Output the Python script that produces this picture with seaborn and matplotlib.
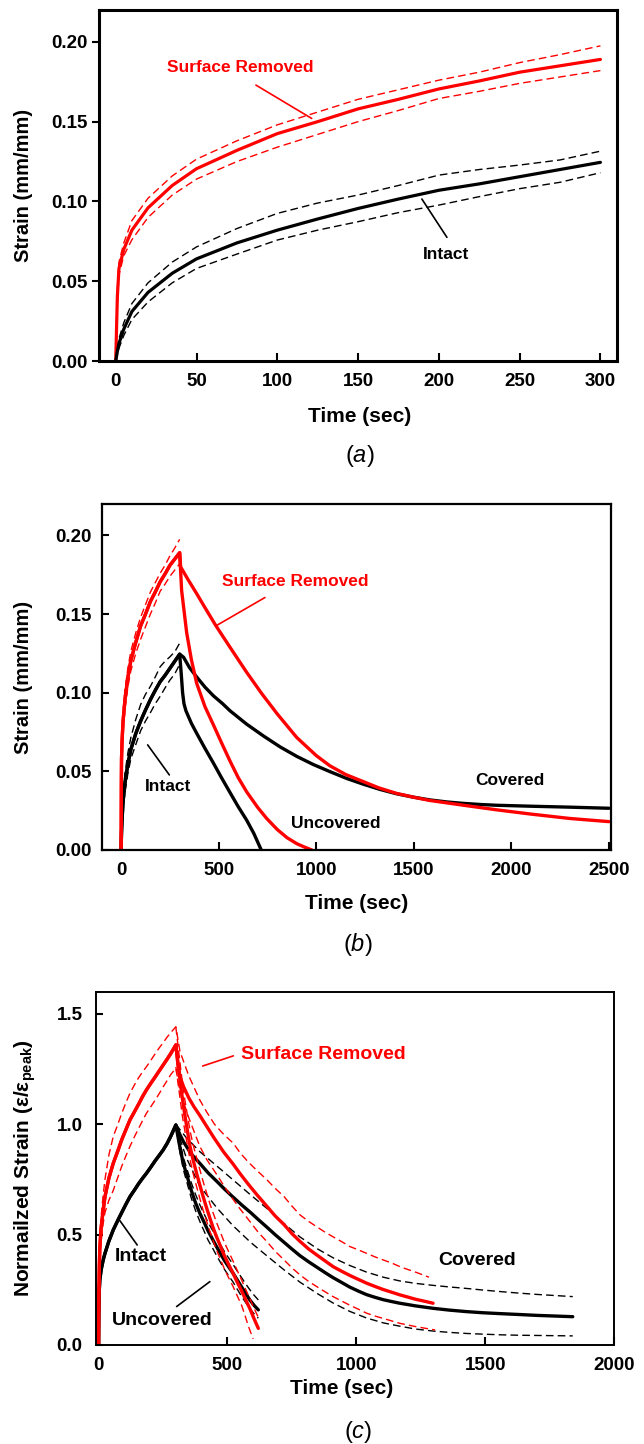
import numpy as np
import matplotlib as mpl
mpl.use('Agg')
import matplotlib.pyplot as plt
import seaborn as sns
from matplotlib.ticker import FormatStrFormatter, MultipleLocator

# ---- (a) creep, raw strain (mm/mm) ----
t_creep = [0, 1, 2, 5, 10, 20, 35, 50, 75, 100, 125, 150, 175, 200, 225, 250, 275, 300]
sr_creep = [0, 0.040, 0.058, 0.070, 0.082, 0.096, 0.110, 0.1205, 0.132, 0.1425, 0.150, 0.158, 0.164,
            0.1705, 0.1755, 0.181, 0.185, 0.189]
sr_creep_hi = [0, 0.045, 0.062, 0.074, 0.088, 0.102, 0.116, 0.1265, 0.138, 0.148, 0.156, 0.164, 0.170,
               0.176, 0.181, 0.187, 0.192, 0.1975]
sr_creep_lo = [0, 0.035, 0.054, 0.066, 0.076, 0.090, 0.104, 0.114, 0.125, 0.134, 0.142, 0.150, 0.157,
               0.1645, 0.169, 0.174, 0.178, 0.182]
in_creep = [0, 0.006, 0.011, 0.020, 0.031, 0.043, 0.055, 0.064, 0.074, 0.082, 0.089, 0.0956, 0.1015,
            0.107, 0.111, 0.1155, 0.120, 0.1245]
in_creep_hi = [0, 0.008, 0.014, 0.024, 0.036, 0.049, 0.062, 0.0715, 0.083, 0.0925, 0.099, 0.104, 0.110,
               0.1165, 0.120, 0.1228, 0.126, 0.1315]
in_creep_lo = [0, 0.004, 0.008, 0.016, 0.026, 0.037, 0.049, 0.058, 0.067, 0.0758, 0.082, 0.0873, 0.093,
               0.0977, 0.103, 0.108, 0.112, 0.118]

# ---- (b) recovery after unloading, raw strain ----
t_in_unc = [308, 315, 322, 332, 360, 387, 430, 473, 515, 558, 600, 643, 680, 718]
in_unc = [0.112, 0.100, 0.093, 0.0885, 0.0805, 0.0742, 0.0645, 0.0552, 0.0458, 0.0365, 0.0275, 0.019,
          0.0105, 0.0]
t_in_cov = [320, 350, 387, 430, 473, 520, 558, 643, 729, 815, 900, 985, 1070, 1155, 1241, 1326, 1412,
            1500, 1583, 1670, 1754, 1840, 1925, 2100, 2300, 2500]
in_cov = [0.1225, 0.116, 0.110, 0.1035, 0.098, 0.093, 0.0885, 0.080, 0.0725, 0.0655, 0.0595, 0.0543,
          0.0498, 0.0455, 0.0418, 0.0385, 0.0357, 0.0335, 0.0318, 0.0305, 0.0296, 0.0289, 0.0284,
          0.0278, 0.0272, 0.0265]
t_sr_unc = [310, 336, 360, 387, 430, 473, 515, 558, 600, 643, 700, 746, 800, 850, 900, 940, 977]
sr_unc = [0.165, 0.138, 0.121, 0.106, 0.091, 0.0795, 0.068, 0.0565, 0.046, 0.037, 0.027, 0.020,
          0.013, 0.0078, 0.0040, 0.0018, 0.0]
t_sr_cov = [305, 340, 387, 430, 486, 560, 643, 720, 800, 900, 1000, 1070, 1150, 1240, 1320, 1410,
            1500, 1580, 1750, 1925, 2100, 2300, 2500]
sr_cov = [0.180, 0.1725, 0.163, 0.154, 0.1425, 0.1285, 0.113, 0.0995, 0.0865, 0.0715, 0.060, 0.0535,
          0.048, 0.0435, 0.0395, 0.036, 0.0335, 0.0315, 0.0285, 0.0255, 0.0228, 0.020, 0.018]

# ---- (c) normalized strain (eps / eps_peak of intact) ----
t_nload = [0, 1, 3, 5, 10, 18, 25, 40, 57, 75, 90, 106, 122, 140, 155, 170, 186, 203, 220, 236, 251,
           266, 280, 300]
nin_load = [0, 0.15, 0.25, 0.295, 0.34, 0.385, 0.415, 0.47, 0.521, 0.565, 0.60, 0.637, 0.672, 0.703,
            0.73, 0.754, 0.778, 0.806, 0.835, 0.86, 0.884, 0.913, 0.945, 0.997]
nsr_load = [0, 0.20, 0.35, 0.44, 0.53, 0.61, 0.672, 0.755, 0.823, 0.88, 0.93, 0.975, 1.02, 1.058,
            1.09, 1.124, 1.156, 1.186, 1.215, 1.243, 1.269, 1.295, 1.32, 1.36]
nsr_load_hi = [0, 0.22, 0.38, 0.48, 0.58, 0.68, 0.75, 0.86, 0.944, 1.0, 1.05, 1.097, 1.141, 1.18, 1.21,
               1.236, 1.261, 1.29, 1.32, 1.347, 1.37, 1.395, 1.415, 1.442]
nsr_load_lo = [0, 0.18, 0.31, 0.40, 0.48, 0.55, 0.60, 0.655, 0.70, 0.76, 0.81, 0.856, 0.90, 0.945, 0.98,
               1.015, 1.05, 1.08, 1.11, 1.14, 1.17, 1.198, 1.225, 1.254]

t_nin_cov = [300, 315, 330, 360, 393, 425, 460, 490, 522, 555, 590, 620, 652, 685, 720, 750, 781, 815,
             850, 880, 910, 945, 975, 1010, 1040, 1075, 1105, 1140, 1169, 1230, 1298, 1360, 1428, 1490,
             1557, 1630, 1700, 1770, 1840]
nin_cov = [0.997, 0.955, 0.92, 0.865, 0.823, 0.78, 0.74, 0.705, 0.67, 0.635, 0.60, 0.568, 0.535, 0.50,
           0.465, 0.435, 0.405, 0.377, 0.35, 0.327, 0.305, 0.282, 0.262, 0.243, 0.228, 0.215, 0.205,
           0.196, 0.189, 0.177, 0.166, 0.158, 0.151, 0.146, 0.142, 0.138, 0.134, 0.131, 0.128]
t_nin_cov_band = [300, 340, 393, 460, 522, 590, 652, 720, 781, 850, 910, 975, 1040, 1105, 1169, 1230,
                  1298, 1360, 1428, 1490, 1557, 1630, 1700, 1770, 1840]
nin_cov_hi = [1.0, 0.94, 0.876, 0.81, 0.748, 0.68, 0.62, 0.55, 0.49, 0.435, 0.395, 0.36, 0.33, 0.307,
              0.29, 0.279, 0.27, 0.263, 0.256, 0.249, 0.242, 0.235, 0.229, 0.224, 0.219]
nin_cov_lo = [0.99, 0.85, 0.72, 0.62, 0.54, 0.465, 0.405, 0.34, 0.285, 0.232, 0.19, 0.152, 0.122, 0.10,
              0.085, 0.072, 0.063, 0.057, 0.052, 0.049, 0.046, 0.044, 0.043, 0.042, 0.041]

t_nsr_cov = [300, 308, 316, 330, 350, 370, 393, 420, 450, 485, 522, 550, 580, 615, 652, 685, 720, 750,
             781, 815, 850, 880, 910, 945, 975, 1010, 1040, 1075, 1105, 1140, 1169, 1200, 1230, 1265, 1298]
nsr_cov = [1.36, 1.27, 1.216, 1.17, 1.12, 1.08, 1.04, 0.99, 0.935, 0.875, 0.82, 0.775, 0.73, 0.68, 0.63,
           0.585, 0.545, 0.505, 0.47, 0.435, 0.405, 0.38, 0.355, 0.333, 0.315, 0.296, 0.28, 0.264, 0.251,
           0.238, 0.227, 0.217, 0.207, 0.198, 0.189]
t_nsr_cov_hi = [300, 316, 350, 393, 420, 450, 485, 522, 550, 580, 615, 652, 685, 720, 750, 781, 815, 850,
                880, 910, 945, 975, 1010, 1040, 1075, 1105, 1140, 1169, 1200, 1230, 1282]
nsr_cov_hi = [1.44, 1.33, 1.22, 1.11, 1.055, 1.00, 0.955, 0.915, 0.87, 0.83, 0.79, 0.75, 0.71, 0.672,
              0.63, 0.59, 0.56, 0.533, 0.51, 0.49, 0.467, 0.446, 0.43, 0.415, 0.398, 0.385, 0.37, 0.355,
              0.342, 0.33, 0.307]
t_nsr_cov_lo = [300, 316, 350, 393, 420, 460, 490, 522, 550, 587, 620, 652, 685, 720, 750, 781, 815, 850,
                880, 910, 945, 975, 1010, 1040, 1075, 1105, 1140, 1169, 1235, 1306]
nsr_cov_lo = [1.26, 1.15, 1.03, 0.90, 0.84, 0.77, 0.715, 0.66, 0.615, 0.56, 0.51, 0.47, 0.425, 0.385,
              0.35, 0.318, 0.288, 0.262, 0.24, 0.219, 0.198, 0.18, 0.161, 0.144, 0.13, 0.12, 0.108, 0.098,
              0.082, 0.068]

t_nin_unc = [300, 308, 315, 322, 329, 345, 360, 376, 393, 410, 425, 442, 458, 474, 490, 506, 522, 538,
             555, 571, 587, 603, 620]
nin_unc = [1.0, 0.945, 0.90, 0.86, 0.823, 0.76, 0.70, 0.645, 0.597, 0.555, 0.517, 0.48, 0.445, 0.412,
           0.38, 0.352, 0.325, 0.295, 0.263, 0.233, 0.204, 0.18, 0.159]
t_nin_unc_band = [300, 315, 329, 345, 360, 376, 393, 410, 425, 442, 458, 474, 490, 506, 522, 538, 555,
                  571, 587, 603, 620]
nin_unc_hi = [1.0, 0.92, 0.85, 0.79, 0.735, 0.683, 0.635, 0.593, 0.555, 0.52, 0.485, 0.452, 0.42, 0.392,
              0.365, 0.335, 0.305, 0.277, 0.25, 0.226, 0.204]
nin_unc_lo = [1.0, 0.88, 0.795, 0.728, 0.665, 0.61, 0.56, 0.515, 0.475, 0.44, 0.405, 0.372, 0.34, 0.312,
              0.285, 0.253, 0.22, 0.192, 0.165, 0.142, 0.121]

t_nsr_unc = [300, 308, 316, 325, 335, 345, 355, 367, 380, 393, 406, 419, 432, 445, 458, 474, 490, 506,
             522, 538, 555, 571, 587, 603, 620]
nsr_unc = [1.36, 1.28, 1.2, 1.12, 1.04, 0.97, 0.90, 0.838, 0.78, 0.725, 0.672, 0.622, 0.575, 0.53, 0.49,
           0.445, 0.40, 0.362, 0.325, 0.285, 0.245, 0.205, 0.165, 0.12, 0.075]
nsr_unc_hi = [1.44, 1.36, 1.28, 1.19, 1.11, 1.04, 0.97, 0.908, 0.85, 0.795, 0.74, 0.69, 0.64, 0.597,
              0.555, 0.507, 0.46, 0.42, 0.38, 0.338, 0.295, 0.252, 0.21, 0.167, 0.125]
t_nsr_unc_lo = [300, 308, 316, 325, 335, 345, 355, 367, 380, 393, 406, 419, 432, 445, 458, 474, 490, 506,
                522, 538, 555, 568, 580, 590, 600]
nsr_unc_lo = [1.26, 1.19, 1.12, 1.04, 0.97, 0.905, 0.84, 0.778, 0.72, 0.664, 0.61, 0.562, 0.515, 0.472,
              0.43, 0.385, 0.34, 0.302, 0.265, 0.223, 0.18, 0.135, 0.09, 0.058, 0.028]

# annotation text (x, y) and leader lines ((x0, x1), (y0, y1))
labels_a = {'Surface Removed': (76.9, 0.1838, 'red'), 'Intact': (204.2, 0.067, 'black')}
leaders_a = [((86.8, 121.3), (0.1729, 0.152), 'red'), ((189.5, 205), (0.1015, 0.0775), 'black')]
labels_b = {'Surface Removed': (891, 0.1707, 'red'), 'Intact': (240, 0.0403, 'black'),
            'Uncovered': (1100, 0.017, 'black'), 'Covered': (1991, 0.0441, 'black')}
leaders_b = [((737, 486), (0.1605, 0.1425), 'red'), ((136, 247), (0.0668, 0.0477), 'black')]
labels_c = {'Surface Removed': (872, 1.317, 'red'), 'Intact': (164, 0.40, 'black'),
            'Uncovered': (249, 0.113, 'black'), 'Covered': (1468, 0.382, 'black')}
leaders_c = [((523, 404), (1.31, 1.264), 'red'), ((83, 150), (0.563, 0.453), 'black'),
             ((303, 432), (0.174, 0.287), 'black')]

RED = '#ff0000'
DASH = (0, (5.5, 3))

sns.set_theme(style='ticks')
plt.rcParams['font.family'] = ['Liberation Sans', 'DejaVu Sans']
plt.rcParams['font.weight'] = 'bold'
plt.rcParams['text.color'] = 'black'
plt.rcParams['axes.labelcolor'] = 'black'
plt.rcParams['xtick.color'] = 'black'
plt.rcParams['ytick.color'] = 'black'
plt.rcParams['mathtext.fontset'] = 'custom'
plt.rcParams['mathtext.rm'] = 'Liberation Sans:weight=normal'
plt.rcParams['mathtext.it'] = 'Liberation Sans:slant=italic:weight=normal'
plt.rcParams['mathtext.bf'] = 'Liberation Sans:weight=bold'


def trace(ax, t, y, color, lw=2.3, ls='-'):
    sns.lineplot(x=np.asarray(t, float), y=np.asarray(y, float), ax=ax, color=color, lw=lw,
                 linestyle=ls, sort=False, estimator=None, errorbar=None)


def style(ax, spine_w, xdir, ydir, xpad, ypad):
    for s in ax.spines.values():
        s.set_visible(True)
        s.set_linewidth(spine_w)
        s.set_color('black')
    ax.tick_params(axis='x', direction=xdir, length=5.5, width=1.5, pad=xpad, labelsize=13.5,
                   colors='black', top=False)
    ax.tick_params(axis='y', direction=ydir, length=5, width=1.5, pad=ypad, labelsize=13.5,
                   colors='black', right=False)
    ax.grid(False)
    ax.set_facecolor('white')


def annotate(ax, labels, leaders, fs):
    for txt, (x, y, c) in labels.items():
        ax.text(x, y, txt, color=c, fontsize=fs, fontweight='bold', ha='center', va='center')
    for xs, ys, c in leaders:
        ax.plot(xs, ys, color=c, lw=1.2)


fig = plt.figure(figsize=(6.44, 14.44), dpi=100)
fig.patch.set_facecolor('white')

# ---------- (a) ----------
ax = fig.add_axes([0.1531, 0.75, 0.8053, 0.2431])
for y in (sr_creep_hi, sr_creep_lo):
    trace(ax, t_creep, y, RED, lw=1.0, ls=DASH)
for y in (in_creep_hi, in_creep_lo):
    trace(ax, t_creep, y, 'black', lw=1.0, ls=DASH)
trace(ax, t_creep, sr_creep, RED)
trace(ax, t_creep, in_creep, 'black')
ax.set_xlim(-10.6, 310.4)
ax.set_ylim(0, 0.22)
ax.xaxis.set_major_locator(MultipleLocator(50))
ax.yaxis.set_major_locator(MultipleLocator(0.05))
ax.yaxis.set_major_formatter(FormatStrFormatter('%.2f'))
style(ax, 2.2, 'in', 'out', 9, 3)
annotate(ax, labels_a, leaders_a, 12.5)
ax.set_xlabel('Time (sec)', fontsize=15, fontweight='bold', va='center')
ax.set_ylabel('Strain (mm/mm)', fontsize=14.5, fontweight='bold', va='center')
ax.xaxis.set_label_coords(0.504, -0.157)
ax.yaxis.set_label_coords(-0.145, 0.5)

# ---------- (b) ----------
ax = fig.add_axes([0.1581, 0.4114, 0.7902, 0.2396])
for y in (sr_creep_hi, sr_creep_lo):
    trace(ax, t_creep, y, RED, lw=1.0, ls=DASH)
for y in (in_creep_hi, in_creep_lo):
    trace(ax, t_creep, y, 'black', lw=1.0, ls=DASH)
trace(ax, t_creep + t_in_unc, in_creep + in_unc, 'black', lw=2.4)
trace(ax, t_creep + t_in_cov, in_creep + in_cov, 'black', lw=2.4)
trace(ax, t_creep + t_sr_unc, sr_creep + sr_unc, RED, lw=2.4)
trace(ax, t_creep + t_sr_cov, sr_creep + sr_cov, RED, lw=2.4)
ax.set_xlim(-99, 2509)
ax.set_ylim(0, 0.22)
ax.xaxis.set_major_locator(MultipleLocator(500))
ax.yaxis.set_major_locator(MultipleLocator(0.05))
ax.yaxis.set_major_formatter(FormatStrFormatter('%.2f'))
style(ax, 1.6, 'in', 'in', 9, 7)
annotate(ax, labels_b, leaders_b, 12.5)
ax.set_xlabel('Time (sec)', fontsize=15, fontweight='bold', va='center')
ax.set_ylabel('Strain (mm/mm)', fontsize=14.5, fontweight='bold', va='center')
ax.xaxis.set_label_coords(0.501, -0.154)
ax.yaxis.set_label_coords(-0.154, 0.5)

# ---------- (c) ----------
ax = fig.add_axes([0.1498, 0.0686, 0.8036, 0.2445])
trace(ax, t_nin_cov_band, nin_cov_hi, 'black', lw=1.0, ls=DASH)
trace(ax, t_nin_cov_band, nin_cov_lo, 'black', lw=1.0, ls=DASH)
trace(ax, t_nin_unc_band, nin_unc_hi, 'black', lw=1.0, ls=DASH)
trace(ax, t_nin_unc_band, nin_unc_lo, 'black', lw=1.0, ls=DASH)
trace(ax, t_nload + t_nin_cov[1:], nin_load + nin_cov[1:], 'black', lw=2.4)
trace(ax, t_nload + t_nin_unc[1:], nin_load + nin_unc[1:], 'black', lw=2.4)
trace(ax, t_nload + t_nsr_cov_hi[1:], nsr_load_hi + nsr_cov_hi[1:], RED, lw=1.0, ls=DASH)
trace(ax, t_nload + t_nsr_cov_lo[1:], nsr_load_lo + nsr_cov_lo[1:], RED, lw=1.0, ls=DASH)
trace(ax, t_nsr_unc, nsr_unc_hi, RED, lw=1.0, ls=DASH)
trace(ax, t_nsr_unc_lo, nsr_unc_lo, RED, lw=1.0, ls=DASH)
trace(ax, t_nload + t_nsr_cov[1:], nsr_load + nsr_cov[1:], RED, lw=2.4)
trace(ax, t_nload + t_nsr_unc[1:], nsr_load + nsr_unc[1:], RED, lw=2.4)
ax.set_xlim(-8, 2000)
ax.set_ylim(0, 1.6)
ax.xaxis.set_major_locator(MultipleLocator(500))
ax.yaxis.set_major_locator(MultipleLocator(0.5))
ax.yaxis.set_major_formatter(FormatStrFormatter('%.1f'))
style(ax, 1.4, 'in', 'in', 9, 10)
annotate(ax, labels_c, leaders_c, 14)
ax.set_xlabel('Time (sec)', fontsize=15, fontweight='bold', va='center')
ax.set_ylabel(r'Normailzed Strain (ε/ε$_{\mathbf{peak}}$)', fontsize=15, fontweight='bold', va='center')
ax.xaxis.set_label_coords(0.474, -0.122)
ax.yaxis.set_label_coords(-0.138, 0.5)

# panel captions
for txt, (x, y) in {r'($\mathit{a}$)': (360, 456), r'($\mathit{b}$)': (358, 944),
                    r'($\mathit{c}$)': (358, 1432)}.items():
    fig.text(x / 644, 1 - y / 1444, txt, fontsize=17, fontweight='normal', ha='center', va='center')

fig.savefig('out.png', dpi=100, facecolor='white')
